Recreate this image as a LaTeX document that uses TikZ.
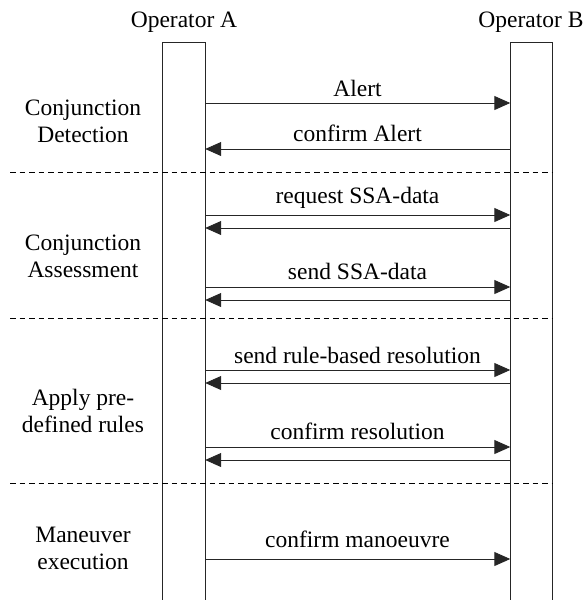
\documentclass[tikz,border=0pt]{standalone}
\usepackage{fontspec}
\setmainfont{Liberation Serif}
\usetikzlibrary{arrows.meta}
\begin{document}
\begin{tikzpicture}[x=1pt,y=-1pt,
  font=\fontsize{23.5}{27}\selectfont,
  lifeline/.style={draw=none,minimum width=42pt,minimum height=558pt,anchor=north,inner sep=0pt},
  edge/.style={line width=0.9pt,draw=black!85},
  msg/.style={edge,-{Triangle[length=16pt,width=14pt]}},
  lbl/.style={anchor=base,inner sep=0pt},
  phase/.style={anchor=base,align=center,inner sep=0pt},
  sep/.style={line width=0.9pt,dash pattern=on 5.5pt off 4pt}]
\useasboundingbox (0,0) rectangle (583,600);

% participants
\node[lbl] (nameA) at (184,27) {Operator A};
\node[lbl] (nameB) at (531,27) {Operator B};
\node[lifeline] (A) at (184,42) {};
\node[lifeline] (B) at (531.5,42) {};
\draw[edge] (A.south west) -- (A.north west) -- (A.north east) -- (A.south east);
\draw[edge] (B.south west) -- (B.north west) -- (B.north east) -- (B.south east);

% phase separators
\coordinate (s1) at (10,172);
\coordinate (s2) at (10,318);
\coordinate (s3) at (10,483);
\draw[sep] (s1) -- (B.east |- s1);
\draw[sep] (s2) -- (B.east |- s2);
\draw[sep] (s3) -- (B.east |- s3);

% phase names (anchored on the baseline of the second line)
\node[phase] (p1) at (83,142) {Conjunction\\Detection};
\node[phase] (p2) at (83,277) {Conjunction\\Assessment};
\node[phase] (p3) at (83,432) {Apply pre-\\defined rules};
\node[phase] (p4) at (83,569) {Maneuver\\execution};

% message levels
\coordinate (m1) at (0,103);
\coordinate (m2) at (0,149);
\coordinate (m3) at (0,215);
\coordinate (m4) at (0,228);
\coordinate (m5) at (0,287);
\coordinate (m6) at (0,300);
\coordinate (m7) at (0,370);
\coordinate (m8) at (0,383);
\coordinate (m9) at (0,447);
\coordinate (m10) at (0,460);
\coordinate (m11) at (0,559);

% messages
\draw[msg] (A.east |- m1) -- (B.west |- m1);
\draw[msg] (B.west |- m2) -- (A.east |- m2);
\draw[msg] (A.east |- m3) -- (B.west |- m3);
\draw[msg] (B.west |- m4) -- (A.east |- m4);
\draw[msg] (A.east |- m5) -- (B.west |- m5);
\draw[msg] (B.west |- m6) -- (A.east |- m6);
\draw[msg] (A.east |- m7) -- (B.west |- m7);
\draw[msg] (B.west |- m8) -- (A.east |- m8);
\draw[msg] (A.east |- m9) -- (B.west |- m9);
\draw[msg] (B.west |- m10) -- (A.east |- m10);
\draw[msg] (A.east |- m11) -- (B.west |- m11);

% message labels
\node[lbl] (l1) at (357.5,96) {Alert};
\node[lbl] (l2) at (357.5,141) {confirm Alert};
\node[lbl] (l3) at (357.5,203) {request SSA-data};
\node[lbl] (l5) at (357.5,279) {send SSA-data};
\node[lbl] (l7) at (357.5,363) {send rule-based resolution};
\node[lbl] (l9) at (357.5,439) {confirm resolution};
\node[lbl] (l11) at (357.5,547) {confirm manoeuvre};
\end{tikzpicture}
\end{document}
